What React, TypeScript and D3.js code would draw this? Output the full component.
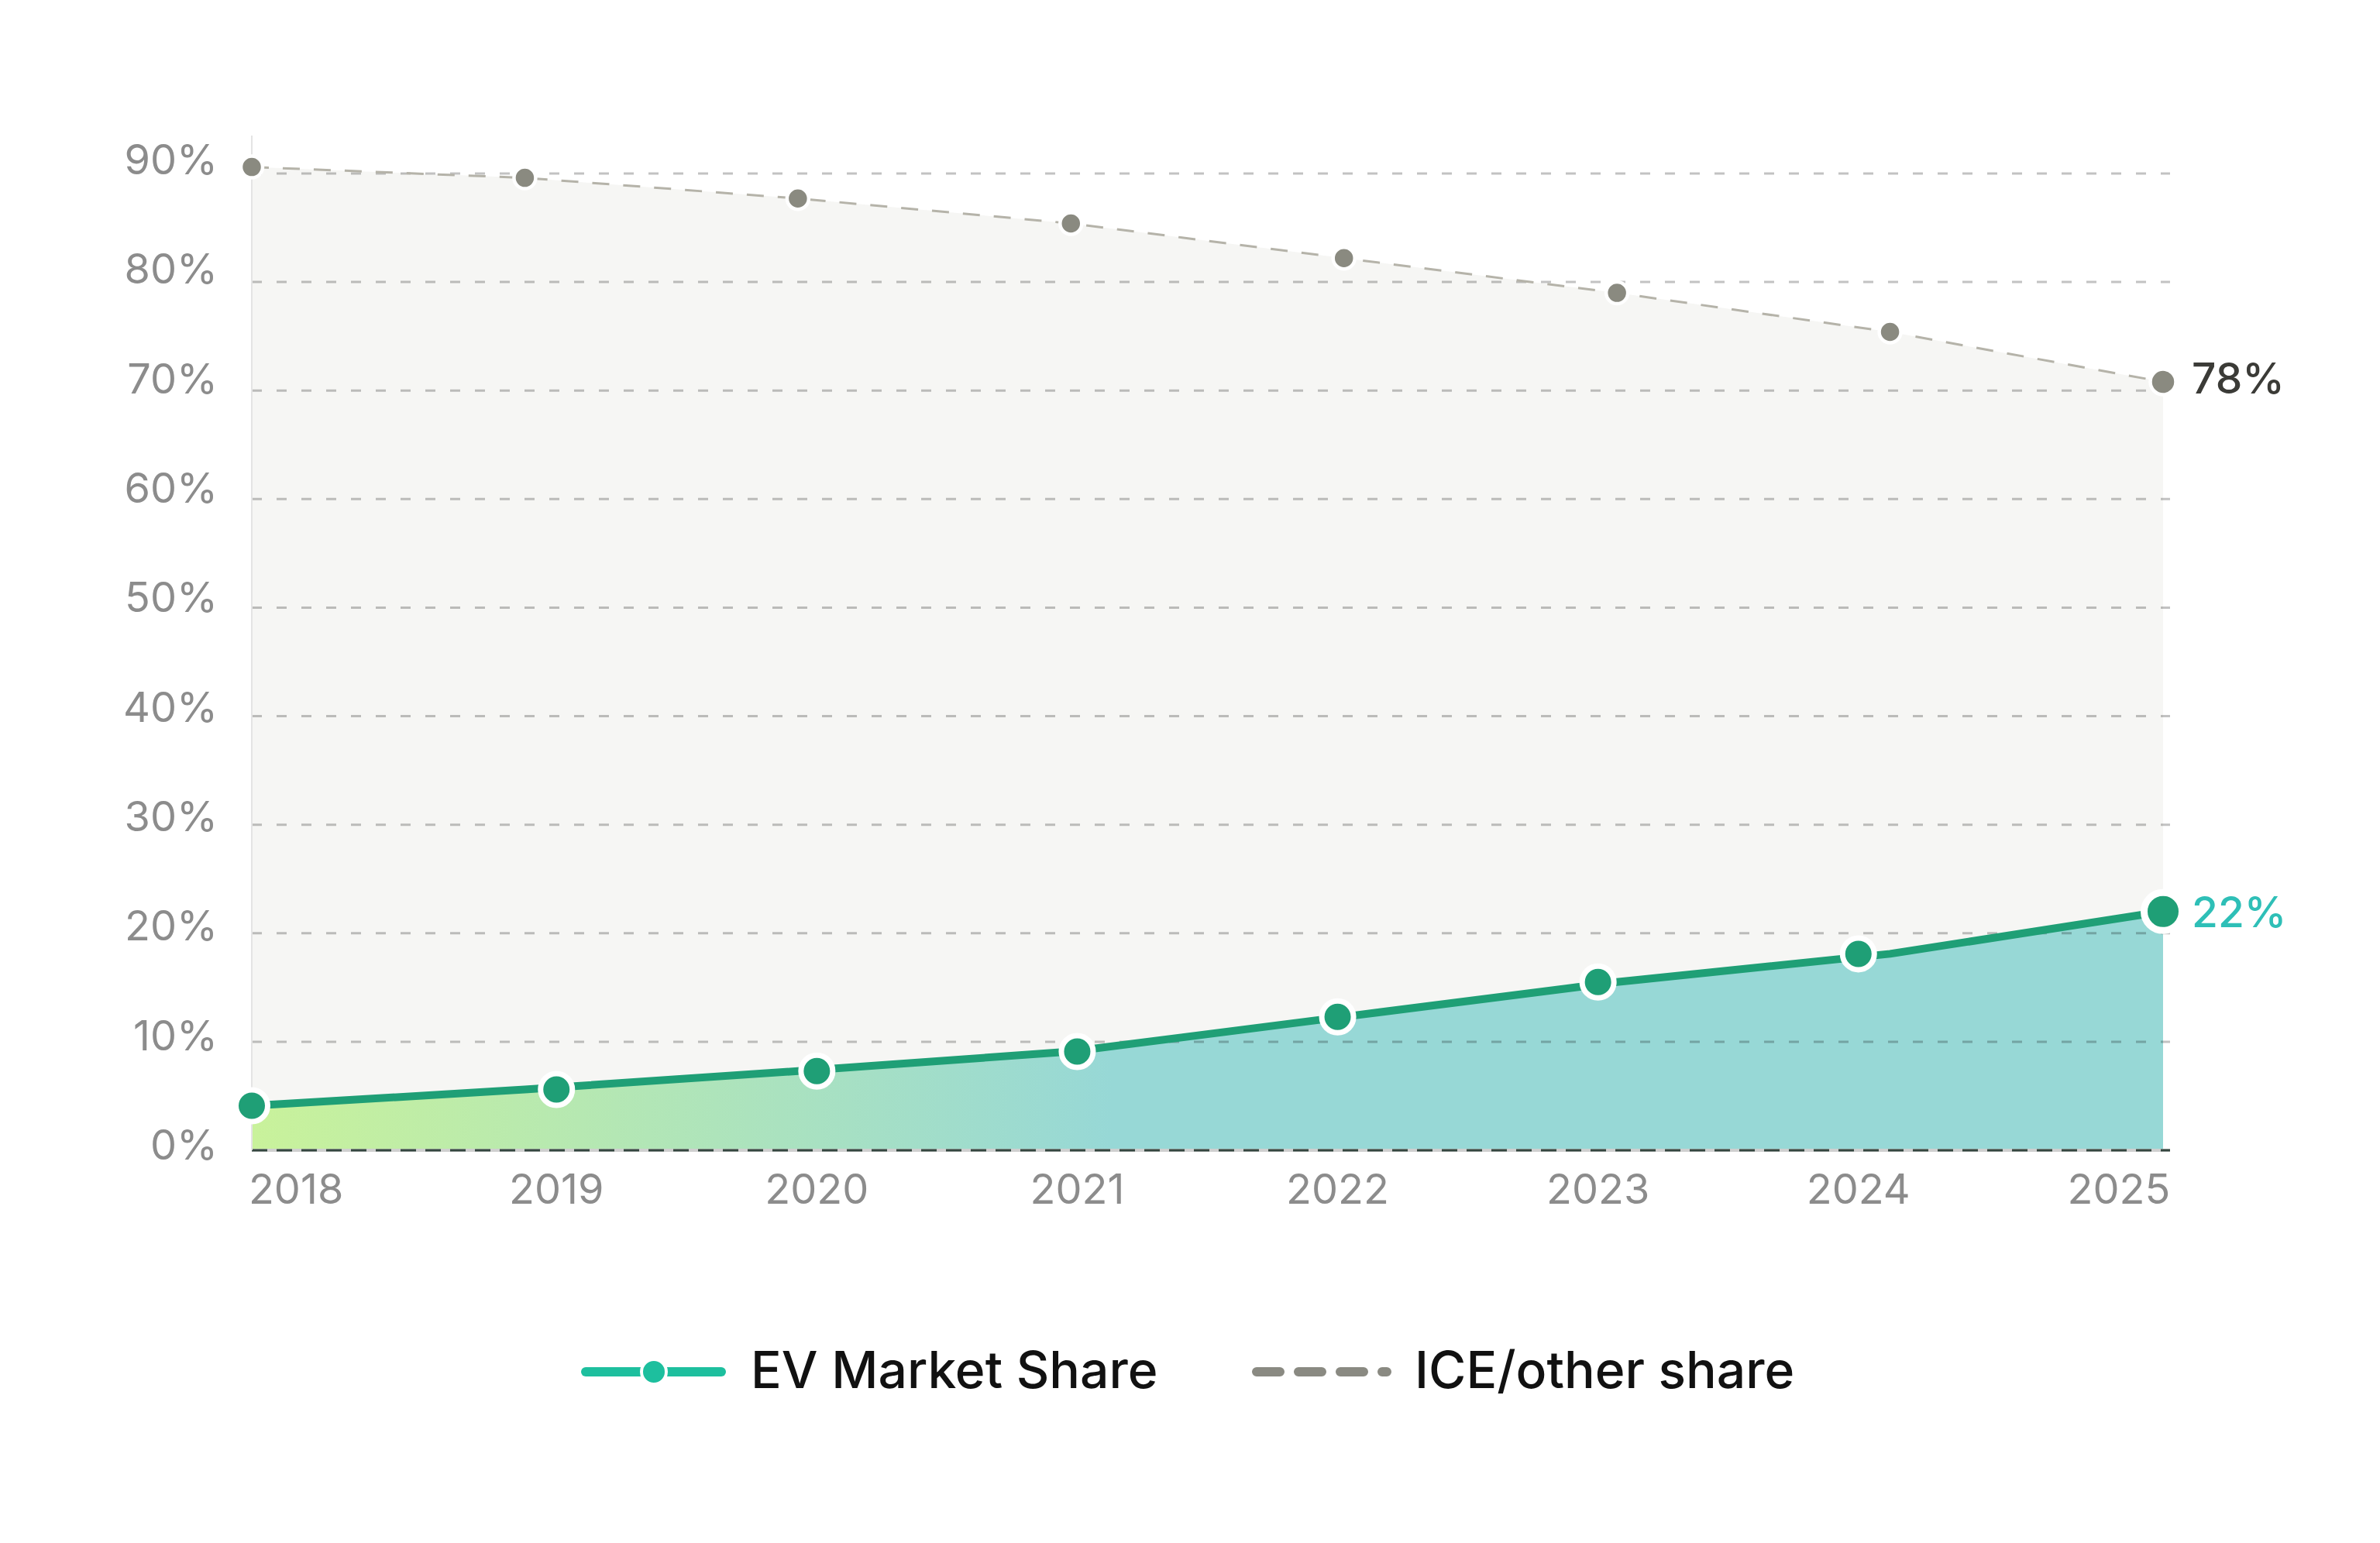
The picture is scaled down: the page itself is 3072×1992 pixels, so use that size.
import * as d3 from 'd3';
import { useEffect, useRef } from 'react';

// chart data
const years = ['2018', '2019', '2020', '2021', '2022', '2023', '2024', '2025'];
const evShare = [4.1, 5.6, 7.3, 9.1, 12.3, 15.5, 18.1, 22.0];
const iceShare = [90.6, 89.6, 87.7, 85.4, 82.2, 79.0, 75.4, 70.8];
const yTicks = [0, 10, 20, 30, 40, 50, 60, 70, 80, 90];
const evEndLabel = '22%';
const iceEndLabel = '78%';
const legendLabels = ['EV Market Share', 'ICE/other share'];

const WIDTH = 3072;
const HEIGHT = 1992;
const FONT = 'Inter, "Liberation Sans", Arial, sans-serif';

const App = () => {
  const ref = useRef<SVGSVGElement | null>(null);

  useEffect(() => {
    if (!ref.current) return;
    const svg = d3.select(ref.current);
    svg.selectAll('*').remove();

    const left = 325;
    const right = 2792;

    const y = d3.scaleLinear().domain([0, 90]).range([1485, 224]);
    const yLabel = d3.scaleLinear().domain([0, 90]).range([1497, 225]);
    const xLine = d3.scalePoint<string>().domain(years).range([left, right]);
    const xTick = d3
      .scalePoint<string>()
      .domain(years)
      .range([left, right])
      .padding(0.17);

    const evData = years.map((year, i) => ({ year, value: evShare[i] }));
    const iceData = years.map((year, i) => ({ year, value: iceShare[i] }));
    type Row = { year: string; value: number };

    // gradient for the EV area
    const defs = svg.append('defs');
    const grad = defs
      .append('linearGradient')
      .attr('id', 'evGrad')
      .attr('gradientUnits', 'userSpaceOnUse')
      .attr('x1', left)
      .attr('x2', right)
      .attr('y1', 0)
      .attr('y2', 0);
    grad.append('stop').attr('offset', 0).attr('stop-color', '#c9f29b');
    grad.append('stop').attr('offset', 0.45).attr('stop-color', '#97d8d6');
    grad.append('stop').attr('offset', 1).attr('stop-color', '#97d8d6');

    const area = d3
      .area<Row>()
      .x((d) => xLine(d.year) as number)
      .y0(y(0))
      .y1((d) => y(d.value));
    const line = d3
      .line<Row>()
      .x((d) => xLine(d.year) as number)
      .y((d) => y(d.value));

    // ICE area (light grey) and EV area
    svg.append('path').attr('d', area(iceData)).attr('fill', '#f6f6f4');
    svg.append('path').attr('d', area(evData)).attr('fill', 'url(#evGrad)');

    // grid
    svg
      .append('g')
      .selectAll('line')
      .data(yTicks.filter((t) => t > 0))
      .enter()
      .append('line')
      .attr('x1', left)
      .attr('x2', right + 9)
      .attr('y1', (d) => y(d))
      .attr('y2', (d) => y(d))
      .attr('stroke', 'rgba(0,0,0,0.24)')
      .attr('stroke-width', 3)
      .attr('stroke-dasharray', '13 19');

    // baseline
    svg
      .append('line')
      .attr('x1', left)
      .attr('x2', right + 9)
      .attr('y1', y(0))
      .attr('y2', y(0))
      .attr('stroke', '#cfcfcf')
      .attr('stroke-width', 4);
    svg
      .append('line')
      .attr('x1', left)
      .attr('x2', right + 9)
      .attr('y1', y(0))
      .attr('y2', y(0))
      .attr('stroke', '#34463f')
      .attr('stroke-width', 3)
      .attr('stroke-dasharray', '20 12');

    // left axis line
    svg
      .append('line')
      .attr('x1', left)
      .attr('x2', left)
      .attr('y1', 175)
      .attr('y2', y(0))
      .attr('stroke', '#e4e4e4')
      .attr('stroke-width', 2);

    // y tick labels
    svg
      .append('g')
      .selectAll('text')
      .data(yTicks)
      .enter()
      .append('text')
      .attr('x', 281)
      .attr('y', (d) => yLabel(d))
      .attr('text-anchor', 'end')
      .attr('font-family', FONT)
      .attr('font-size', 54)
      .attr('fill', '#8c8c8c')
      .text((d) => `${d}%`);

    // x tick labels
    svg
      .append('g')
      .selectAll('text')
      .data(years)
      .enter()
      .append('text')
      .attr('x', (d) => xTick(d) as number)
      .attr('y', 1554)
      .attr('text-anchor', 'middle')
      .attr('font-family', FONT)
      .attr('font-size', 54)
      .attr('fill', '#8c8c8c')
      .text((d) => d);

    // ICE dashed line + dots
    svg
      .append('path')
      .attr('d', line(iceData))
      .attr('fill', 'none')
      .attr('stroke', '#b5b3a9')
      .attr('stroke-width', 3)
      .attr('stroke-dasharray', '22 18');

    svg
      .append('g')
      .selectAll('circle')
      .data(iceData)
      .enter()
      .append('circle')
      .attr('cx', (d) => xLine(d.year) as number)
      .attr('cy', (d) => y(d.value))
      .attr('r', (_d, i) => (i === iceData.length - 1 ? 16.5 : 14))
      .attr('fill', '#8a8a80')
      .attr('stroke', '#ffffff')
      .attr('stroke-width', 4.5);

    // EV line + dots
    svg
      .append('path')
      .attr('d', line(evData))
      .attr('fill', 'none')
      .attr('stroke', '#1f9f76')
      .attr('stroke-width', 10)
      .attr('stroke-linejoin', 'round');

    // end dots sit on the plot edges, the others on the label positions
    const evDotX = (d: Row, i: number) =>
      i === 0 || i === evData.length - 1
        ? (xLine(d.year) as number)
        : (xTick(d.year) as number);

    svg
      .append('g')
      .selectAll('circle')
      .data(evData)
      .enter()
      .append('circle')
      .attr('cx', (d, i) => evDotX(d, i))
      .attr('cy', (d) => y(d.value))
      .attr('r', (_d, i) => (i === evData.length - 1 ? 24.5 : 20.5))
      .attr('fill', '#1f9f76')
      .attr('stroke', '#ffffff')
      .attr('stroke-width', (_d, i) => (i === evData.length - 1 ? 9 : 7));

    // end labels
    const lastYear = years[years.length - 1];
    svg
      .append('text')
      .attr('x', (xLine(lastYear) as number) + 37)
      .attr('y', y(iceShare[iceShare.length - 1]))
      .attr('dy', '0.28em')
      .attr('font-family', FONT)
      .attr('font-size', 55)
      .attr('font-weight', 500)
      .attr('fill', '#3b3b37')
      .text(iceEndLabel);
    svg
      .append('text')
      .attr('x', (xLine(lastYear) as number) + 37)
      .attr('y', y(evShare[evShare.length - 1]))
      .attr('dy', '0.36em')
      .attr('font-family', FONT)
      .attr('font-size', 55)
      .attr('font-weight', 500)
      .attr('fill', '#2ebfb7')
      .text(evEndLabel);

    // legend
    const legendY = 1771;
    const lg = svg.append('g');
    lg.append('line')
      .attr('x1', 756)
      .attr('x2', 931)
      .attr('y1', legendY)
      .attr('y2', legendY)
      .attr('stroke', '#1dbf9e')
      .attr('stroke-width', 12)
      .attr('stroke-linecap', 'round');
    lg.append('circle')
      .attr('cx', 844)
      .attr('cy', legendY)
      .attr('r', 16)
      .attr('fill', '#1dbf9e')
      .attr('stroke', '#ffffff')
      .attr('stroke-width', 4);
    lg.append('text')
      .attr('x', 969)
      .attr('y', 1792)
      .attr('font-family', FONT)
      .attr('font-size', 66)
      .attr('font-weight', 500)
      .attr('fill', '#111111')
      .text(legendLabels[0]);

    lg.append('line')
      .attr('x1', 1622)
      .attr('x2', 1790)
      .attr('y1', legendY)
      .attr('y2', legendY)
      .attr('stroke', '#8a8a82')
      .attr('stroke-width', 12)
      .attr('stroke-linecap', 'round')
      .attr('stroke-dasharray', '30 24');
    lg.append('text')
      .attr('x', 1826)
      .attr('y', 1792)
      .attr('font-family', FONT)
      .attr('font-size', 66)
      .attr('font-weight', 500)
      .attr('fill', '#111111')
      .text(legendLabels[1]);
  }, []);

  return (
    <svg
      ref={ref}
      width={WIDTH}
      height={HEIGHT}
      style={{ position: 'absolute', left: 0, top: 0, background: '#ffffff' }}
    />
  );
};

export default App;
